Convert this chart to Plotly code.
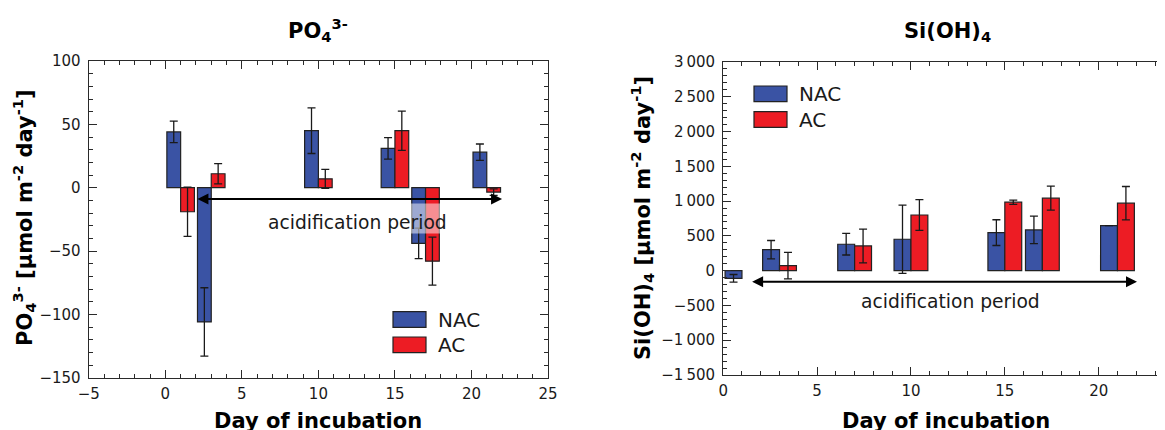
import plotly.graph_objects as go

# The page body adds an 8 px margin, so the figure is drawn 8 px in from the
# window's top-left corner; positions below are given in window pixels.
OX, OY = 8, 8
W, H = 1165 - OX, 430 - OY

# ---------------- data ----------------
po4_days = [1, 3, 10, 15, 17, 21]
po4_nac = [44, -106, 45, 31, -44, 28]
po4_nac_err = [8.5, 27, 18, 8.5, 12, 6.5]
po4_ac = [-19, 11, 7, 45, -58, -3.5]
po4_ac_err = [19.5, 8, 7.5, 15.5, 19, 2.5]

si_days = [1, 3, 7, 10, 15, 17, 21]
si_nac = [-110, 302, 380, 452, 547, 586, 648]
si_nac_err = [55, 132, 155, 490, 185, 198, None]
si_ac = [None, 72, 355, 800, 984, 1042, 970]
si_ac_err = [None, 190, 243, 220, 30, 173, 240]

po4_xticks = [-5, 0, 5, 10, 15, 20, 25]
po4_xticklabels = ["\u22125", "0", "5", "10", "15", "20", "25"]
po4_yticks = [-150, -100, -50, 0, 50, 100]
po4_yticklabels = ["\u2212150", "\u2212100", "\u221250", "0", "50", "100"]

si_xticks = [0, 5, 10, 15, 20]
si_xticklabels = ["0", "5", "10", "15", "20"]
si_yticks = [-1500, -1000, -500, 0, 500, 1000, 1500, 2000, 2500, 3000]
si_yticklabels = ["\u22121\u2009500", "\u22121\u2009000", "\u2212500", "0", "500",
                  "1\u2009000", "1\u2009500", "2\u2009000", "2\u2009500", "3\u2009000"]

series_names = ["NAC", "AC"]
colors = {"NAC": "#3A53A4", "AC": "#ED1C24"}

FONT = "DejaVu Sans"
INK = "#1a1a1a"
EDGE = "#222222"


def px(xp):
    return (xp - OX) / W


def py(yp):
    return 1 - (yp - OY) / H


fig = go.Figure()


def add_bars(days, vals, errs, name, xa, ya):
    fig.add_trace(go.Bar(
        x=days, y=vals, name=name, xaxis=xa, yaxis=ya,
        marker=dict(color=colors[name], line=dict(color=EDGE, width=1.2)),
        error_y=dict(type="data", array=errs, visible=True, color=INK,
                     thickness=1.3, width=4),
        showlegend=False,
    ))


add_bars(po4_days, po4_nac, po4_nac_err, "NAC", "x", "y")
add_bars(po4_days, po4_ac, po4_ac_err, "AC", "x", "y")
add_bars(si_days, si_nac, si_nac_err, "NAC", "x2", "y2")
add_bars(si_days, si_ac, si_ac_err, "AC", "x2", "y2")

tickfont = dict(family=FONT, size=15, color=INK)
axis_common = dict(
    showgrid=False, zeroline=False, showline=True, linecolor="#2a2a2a",
    linewidth=1.3, ticks="inside", ticklen=8, tickwidth=1.2,
    tickcolor="#2a2a2a", tickfont=tickfont, tickmode="array", automargin=False,
)

fig.update_layout(
    template="none",
    width=W, height=H, autosize=False,
    margin=dict(l=0, r=0, t=0, b=0, pad=0),
    paper_bgcolor="white", plot_bgcolor="white",
    barmode="group", bargap=0.1, bargroupgap=0,
    showlegend=False,
    xaxis=dict(axis_common, domain=[px(88.8), px(548.0)], range=[-5, 25],
               tickvals=po4_xticks, ticktext=po4_xticklabels, mirror="ticks",
               anchor="y", ticklabelstandoff=2,
               minor=dict(ticks="inside", ticklen=4, dtick=1, tick0=0,
                          tickcolor="#2a2a2a", tickwidth=1.1)),
    yaxis=dict(axis_common, domain=[py(377.7), py(61)], range=[-150, 100],
               tickvals=po4_yticks, ticktext=po4_yticklabels, mirror="ticks",
               anchor="x", ticklabelstandoff=4,
               minor=dict(ticks="inside", ticklen=4, dtick=10, tick0=0,
                          tickcolor="#2a2a2a", tickwidth=1.1)),
    xaxis2=dict(axis_common, domain=[px(723.2), 1.0], range=[0, (1165 - 723.2) / 18.775],
                tickvals=si_xticks, ticktext=si_xticklabels, mirror="ticks",
                anchor="y2", ticklabelstandoff=2,
                minor=dict(ticks="inside", ticklen=4, dtick=1, tick0=0,
                           tickcolor="#2a2a2a", tickwidth=1.1)),
    yaxis2=dict(axis_common, domain=[py(375), py(62)], range=[-1500, 3000],
                tickvals=si_yticks, ticktext=si_yticklabels, mirror=False,
                anchor="x2", ticklabelstandoff=4,
                minor=dict(ticks="inside", ticklen=4, dtick=100, tick0=0,
                           tickcolor="#2a2a2a", tickwidth=1.1)),
)

ann = []
shapes = []

# titles
ttl_font = dict(family=FONT, size=21, color="black")
ann.append(dict(text="<b>PO<sub>4</sub><sup>3-</sup></b>", x=px(318), y=py(30),
                xref="paper", yref="paper", showarrow=False, font=ttl_font,
                xanchor="center", yanchor="middle"))
ann.append(dict(text="<b>Si(OH)<sub>4</sub></b>", x=px(947.7), y=py(32),
                xref="paper", yref="paper", showarrow=False, font=ttl_font,
                xanchor="center", yanchor="middle"))

# axis titles
ann.append(dict(text="<b>Day of incubation</b>", x=px(317.7), y=py(421),
                xref="paper", yref="paper", showarrow=False, font=ttl_font,
                xanchor="center", yanchor="middle"))
ann.append(dict(text="<b>Day of incubation</b>", x=px(945.5), y=py(421),
                xref="paper", yref="paper", showarrow=False, font=ttl_font,
                xanchor="center", yanchor="middle"))
ann.append(dict(text="<b>PO<sub>4</sub><sup>3-</sup> [µmol m<sup>-2</sup> day<sup>-1</sup>]</b>",
                x=px(24), y=py(218), xref="paper", yref="paper", showarrow=False,
                font=ttl_font, textangle=-90, xanchor="center", yanchor="middle"))
ann.append(dict(text="<b>Si(OH)<sub>4</sub> [µmol m<sup>-2</sup> day<sup>-1</sup>]</b>",
                x=px(642), y=py(218), xref="paper", yref="paper", showarrow=False,
                font=ttl_font, textangle=-90, xanchor="center", yanchor="middle"))

# acidification arrows and labels
for xr, yr, x0, x1, yv, tx, ty in [("x", "y", 2, 22, -9, 12.53, -27.4),
                                   ("x2", "y2", 1.46, 22.04, -158, 12.08, -446)]:
    ann.append(dict(x=x1, y=yv, ax=x0, ay=yv, xref=xr, yref=yr, axref=xr, ayref=yr,
                    text="", showarrow=True, arrowhead=2, startarrowhead=2,
                    arrowside="end+start", arrowsize=1.1, startarrowsize=1.1,
                    arrowwidth=2, arrowcolor="black", standoff=0, startstandoff=0))
    ann.append(dict(x=tx, y=ty, xref=xr, yref=yr, text="acidification period",
                    showarrow=False, font=dict(family=FONT, size=18.7, color=INK),
                    xanchor="center", yanchor="middle"))

# semi-transparent label box overlapping the bars (left panel)
shapes.append(dict(type="rect", xref="x", yref="y", x0=6.3, x1=18.7, y0=-36.1, y1=-12.4,
                   fillcolor="rgba(255,255,255,0.5)", line=dict(width=0), layer="above"))

# custom legends
leg_font = dict(family=FONT, size=20, color=INK)
for (lx, ly_nac, ly_ac, tx) in [(393, 311.7, 337, 436), (754, 86, 111.7, 797)]:
    for name, ly in zip(series_names, [ly_nac, ly_ac]):
        shapes.append(dict(type="rect", xref="paper", yref="paper",
                           x0=px(lx), x1=px(lx + 33), y0=py(ly + 15.7), y1=py(ly),
                           fillcolor=colors[name], line=dict(color=EDGE, width=1.2)))
        ann.append(dict(text=name, x=px(tx), y=py(ly + 8), xref="paper", yref="paper",
                        showarrow=False, font=leg_font, xanchor="left", yanchor="middle"))

fig.update_layout(annotations=ann, shapes=shapes)

fig.write_html("out.html")
